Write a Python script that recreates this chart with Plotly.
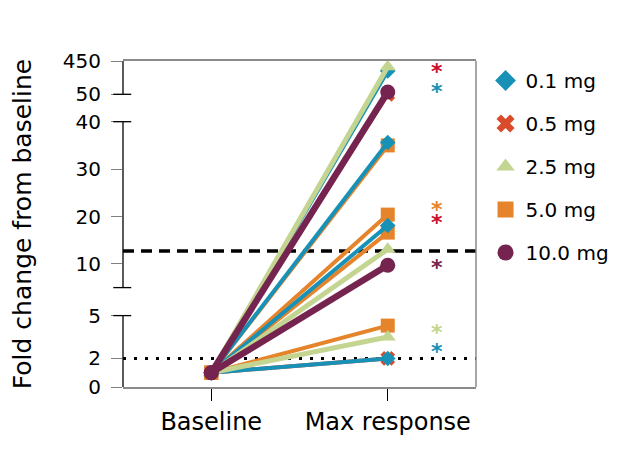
import plotly.graph_objects as go

# ---------------- data ----------------
categories = ["Baseline", "Max response"]
series_names = ["0.1 mg", "0.5 mg", "2.5 mg", "5.0 mg", "10.0 mg"]
baseline_value = 1.0
max_0_1 = [330, 35.6, 18.1, 2.0]
max_0_5 = [50, 2.0]
max_2_5 = [381, 13.1, 3.5]
max_5_0 = [35.0, 20.4, 16.6, 4.3]
max_10_0 = [78, 9.7]

tick_values = [0, 2, 5, 10, 20, 30, 40, 50, 450]
tick_labels = ["0", "2", "5", "10", "20", "30", "40", "50", "450"]

threshold_dashed = 12.7
threshold_dotted = 2
star_values = [350, 106, 22, 19.2, 9.7, 3.97, 2.64]
star_series = ["0.5 mg", "0.1 mg", "5.0 mg", "0.5 mg", "10.0 mg", "2.5 mg", "0.1 mg"]

# ---------------- styles ----------------
colors = {"0.1 mg": "#1791b6", "0.5 mg": "#d94b2a", "2.5 mg": "#c3d590",
          "5.0 mg": "#e5842b", "10.0 mg": "#75244f"}
star_colors = {"0.1 mg": "#1791b6", "0.5 mg": "#c8102e", "2.5 mg": "#c3d590",
               "5.0 mg": "#e5842b", "10.0 mg": "#75244f"}
symbols = {"0.1 mg": "diamond", "0.5 mg": "x", "2.5 mg": "triangle-up",
           "5.0 mg": "square", "10.0 mg": "circle"}
msize = {"0.1 mg": 12, "0.5 mg": 13, "2.5 mg": 14, "5.0 mg": 14, "10.0 mg": 15}
lwidth = {"0.1 mg": 4, "0.5 mg": 4, "2.5 mg": 5, "5.0 mg": 4, "10.0 mg": 6.5}

FONT = "DejaVu Sans"


# broken axis: map a value to the axis coordinate
def to_axis(v):
    if v <= 5:
        return v * 14.28
    if v <= 40:
        return 99.4 + (v - 5) * 4.74
    if v < 50:
        return 265.3 + (v - 40) * (292.7 - 265.3) / 10
    return 292.7 + (v - 50) * (33.3 / 400)


data_by_series = {"0.1 mg": max_0_1, "0.5 mg": max_0_5, "2.5 mg": max_2_5,
                  "5.0 mg": max_5_0, "10.0 mg": max_10_0}
draw_order = ["0.5 mg", "5.0 mg", "0.1 mg", "2.5 mg", "10.0 mg"]

fig = go.Figure()
for name in draw_order:
    for v in data_by_series[name]:
        fig.add_trace(go.Scatter(
            x=categories, y=[to_axis(baseline_value), to_axis(v)],
            mode="lines+markers", showlegend=False, legendgroup=name,
            line=dict(color=colors[name], width=lwidth[name]),
            marker=dict(symbol=symbols[name], size=msize[name], color=colors[name],
                        line=dict(width=0)),
            hoverinfo="skip"))

# legend-only entries (markers only)
for name in series_names:
    fig.add_trace(go.Scatter(
        x=[None], y=[None], mode="markers", name=name, legendgroup=name,
        marker=dict(symbol=symbols[name], size=16, color=colors[name], line=dict(width=0))))

shapes = []
# horizontal reference lines
shapes.append(dict(type="line", xref="paper", yref="y", x0=0, x1=1,
                   y0=to_axis(threshold_dashed), y1=to_axis(threshold_dashed),
                   line=dict(color="black", width=3.5, dash="11px,7px"), layer="below"))
shapes.append(dict(type="line", xref="paper", yref="y", x0=0, x1=1,
                   y0=to_axis(threshold_dotted), y1=to_axis(threshold_dotted),
                   line=dict(color="black", width=3, dash="3px,8px"), layer="below"))
# right frame
shapes.append(dict(type="line", xref="paper", yref="paper", x0=1, x1=1, y0=0, y1=1,
                   line=dict(color="#8a8a8a", width=1.5)))
# broken left axis segments
seg_px = [(0, to_axis(5)), (99.4, to_axis(40)), (to_axis(50), to_axis(450))]
for y0, y1 in seg_px:
    shapes.append(dict(type="line", xref="paper", yref="y", x0=0, x1=0, y0=y0, y1=y1,
                       line=dict(color="black", width=1.3)))
# caps at segment ends
cap_left = -10 / 364
cap_right = 8.5 / 364
for yc in [to_axis(5), 99.4, to_axis(40), to_axis(50)]:
    shapes.append(dict(type="line", xref="paper", yref="y", x0=cap_left, x1=cap_right,
                       y0=yc, y1=yc, line=dict(color="black", width=1.3)))

annotations = []
for v, s in zip(star_values, star_series):
    annotations.append(dict(x=1.28, y=to_axis(v), xref="x", yref="y", text="<b>*</b>",
                            showarrow=False, yshift=-2,
                            font=dict(family=FONT, size=22, color=star_colors[s])))

fig.update_layout(
    width=621, height=441,
    margin=dict(l=104, r=153, t=53, b=62),
    paper_bgcolor="white", plot_bgcolor="white",
    font=dict(family=FONT, color="black"),
    shapes=shapes, annotations=annotations,
    legend=dict(x=1.027, y=1.0, xanchor="left", yanchor="top",
                font=dict(family=FONT, size=20, color="black"),
                tracegroupgap=14, bgcolor="rgba(0,0,0,0)"),
    xaxis=dict(type="category", categoryorder="array", categoryarray=categories,
               range=[-0.5, 1.5], showgrid=False, zeroline=False,
               showline=True, linecolor="#8a8a8a", linewidth=1.5, mirror=True,
               ticks="outside", ticklen=12, tickwidth=1.2, tickcolor="black",
               tickfont=dict(family=FONT, size=24, color="black")),
    yaxis=dict(range=[0, 326], showgrid=False, zeroline=False, showline=False,
               tickmode="array", tickvals=[to_axis(v) for v in tick_values],
               ticktext=tick_labels, ticks="outside", ticklen=11, tickwidth=1.2,
               tickcolor="#808080", ticklabelstandoff=6,
               tickfont=dict(family=FONT, size=20, color="black"),
               title=dict(text="Fold change from baseline", standoff=25,
                          font=dict(family=FONT, size=25, color="black"))),
)

fig.write_html("out.html")
